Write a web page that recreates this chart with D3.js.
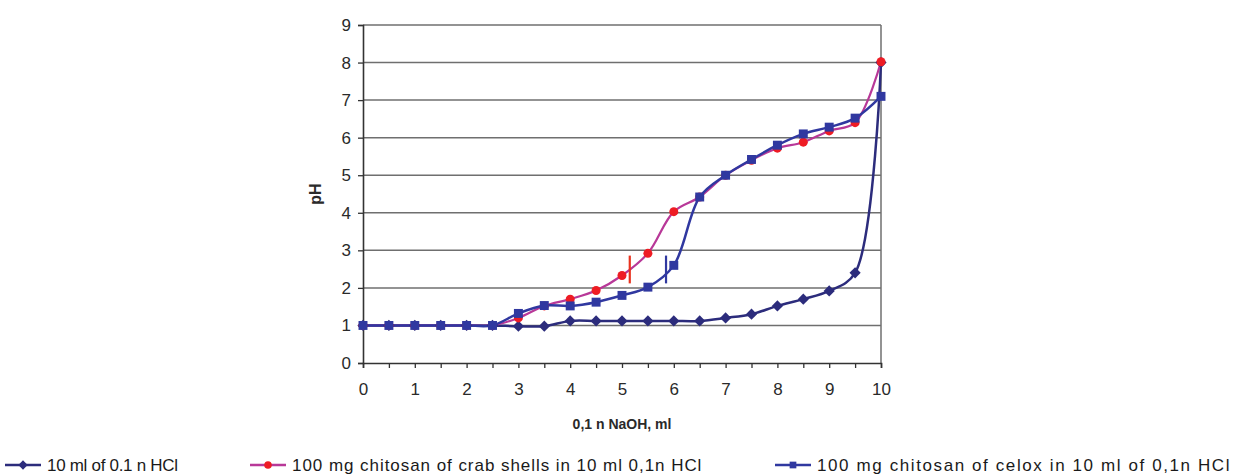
<!DOCTYPE html>
<html>
<head>
<meta charset="utf-8">
<script src="https://d3js.org/d3.v7.min.js"></script>
<style>
 body { margin:0; background:#fff; }
 text { font-family: "Liberation Sans", Arial, sans-serif; }
</style>
</head>
<body>
<div id="chart"></div>
<script>

// data
var naoh = [0,0.5,1,1.5,2,2.5,3,3.5,4,4.5,5,5.5,6,6.5,7,7.5,8,8.5,9,9.5,10];
var phHcl   = [1,1,1,1,1,1,0.98,0.98,1.12,1.12,1.12,1.12,1.12,1.12,1.2,1.3,1.52,1.7,1.92,2.4,8];
var phCrab  = [1,1,1,1,1,1,1.2,1.52,1.7,1.93,2.33,2.92,4.03,4.42,5,5.4,5.72,5.88,6.18,6.4,8.02];
var phCelox = [1,1,1,1,1,1,1.32,1.53,1.52,1.62,1.8,2.02,2.6,4.42,5,5.42,5.8,6.1,6.28,6.52,7.1];
var xTicks = [0,1,2,3,4,5,6,7,8,9,10];
var yTicks = [0,1,2,3,4,5,6,7,8,9];
var seriesNames = ["10 ml of 0.1 n HCl",
                   "100 mg chitosan of crab shells in 10 ml 0,1n HCl",
                   "100 mg chitosan of celox in 10 ml of 0,1n HCl"];
// vertical marks on the curves: [x, pH from, pH to]
var markCrab  = [5.15, 2.12, 2.86];
var markCelox = [5.85, 2.12, 2.86];

var W = 1235, H = 475;
var svg = d3.select("#chart").append("svg")
  .attr("width", W).attr("height", H);

var x = d3.scaleLinear().domain([0,10]).range([363,881]);
var y = d3.scaleLinear().domain([0,9]).range([363,25]);

//grid lines
svg.append("g").selectAll("line")
  .data(yTicks.slice(1))
  .enter().append("line")
  .attr("x1", x(0)).attr("x2", x(10))
  .attr("y1", function(d){ return y(d); })
  .attr("y2", function(d){ return y(d); })
  .attr("stroke", "#6f6f6f").attr("stroke-width", 1.5);

//plot frame (right side)
svg.append("line")
  .attr("x1", x(10)).attr("x2", x(10)).attr("y1", y(9)).attr("y2", y(0))
  .attr("stroke", "#6f6f6f").attr("stroke-width", 1.5);

//y axis
var yAxis = svg.append("g")
  .attr("transform", "translate(" + x(0) + ",0)")
  .call(d3.axisLeft(y).tickValues(yTicks).tickSize(5).tickPadding(7));
yAxis.select(".domain").attr("stroke", "#333").attr("stroke-width", 1.6);
yAxis.selectAll(".tick line").attr("stroke", "#333").attr("stroke-width", 1.3);
yAxis.selectAll("text").attr("font-size", 17).attr("fill", "#2a2a2a")
  .style("font-family", "Liberation Sans, Arial, sans-serif");

//x axis, ticks every 0.5, labels on whole numbers
var xAxis = svg.append("g")
  .attr("transform", "translate(0," + y(0) + ")")
  .call(d3.axisBottom(x).tickValues(naoh).tickSize(5).tickPadding(15)
    .tickFormat(function(d){ return xTicks.indexOf(d) >= 0 ? d : ""; }));
xAxis.select(".domain").attr("stroke", "#333").attr("stroke-width", 1.6);
xAxis.selectAll(".tick line").attr("stroke", "#333").attr("stroke-width", 1.3);
xAxis.selectAll("text").attr("font-size", 17).attr("fill", "#2a2a2a")
  .style("font-family", "Liberation Sans, Arial, sans-serif");

//axis titles
svg.append("text")
  .attr("x", (x(0) + x(10)) / 2).attr("y", 429)
  .attr("text-anchor", "middle")
  .attr("font-size", 14).attr("font-weight", "bold").attr("fill", "#2a2a2a")
  .text("0,1 n NaOH, ml");

svg.append("text")
  .attr("transform", "translate(321," + ((y(0) + y(9)) / 2) + ") rotate(-90)")
  .attr("text-anchor", "middle")
  .attr("font-size", 16).attr("font-weight", "bold").attr("fill", "#2a2a2a")
  .text("pH");

var line = function(vals){
  return d3.line()
    .x(function(d, i){ return x(naoh[i]); })
    .y(function(d){ return y(d); })
    .curve(d3.curveCatmullRom.alpha(0.5))(vals);
};

var cHcl = "#2c2c7c", cCrab = "#b83898", cCrabDot = "#ee1c24", cCelox = "#3038a0";

//series lines
svg.append("path").attr("d", line(phHcl)).attr("fill", "none")
  .attr("stroke", cHcl).attr("stroke-width", 2.5);
svg.append("path").attr("d", line(phCrab)).attr("fill", "none")
  .attr("stroke", cCrab).attr("stroke-width", 2.2);
svg.append("path").attr("d", line(phCelox)).attr("fill", "none")
  .attr("stroke", cCelox).attr("stroke-width", 2.5);

//markers
var diamond = d3.symbol().type(d3.symbolDiamond2).size(80);
var square = d3.symbol().type(d3.symbolSquare).size(80);

svg.append("g").selectAll("path")
  .data(phHcl).enter().append("path")
  .attr("d", diamond)
  .attr("transform", function(d, i){ return "translate(" + x(naoh[i]) + "," + y(d) + ")"; })
  .attr("fill", cHcl);

svg.append("g").selectAll("circle")
  .data(phCrab).enter().append("circle")
  .attr("cx", function(d, i){ return x(naoh[i]); })
  .attr("cy", function(d){ return y(d); })
  .attr("r", 4.5)
  .attr("fill", cCrabDot);

svg.append("g").selectAll("path")
  .data(phCelox).enter().append("path")
  .attr("d", square)
  .attr("transform", function(d, i){ return "translate(" + x(naoh[i]) + "," + y(d) + ")"; })
  .attr("fill", cCelox);

//vertical marks
svg.append("line")
  .attr("x1", x(markCrab[0])).attr("x2", x(markCrab[0]))
  .attr("y1", y(markCrab[1])).attr("y2", y(markCrab[2]))
  .attr("stroke", "#e8321e").attr("stroke-width", 2.2);
svg.append("line")
  .attr("x1", x(markCelox[0])).attr("x2", x(markCelox[0]))
  .attr("y1", y(markCelox[1])).attr("y2", y(markCelox[2]))
  .attr("stroke", cCelox).attr("stroke-width", 2.2);

//legend
var legendX = [5, 250, 775];
var legendSpacing = [-0.3, 0.95, 1.6];
var legendColors = [cHcl, cCrab, cCelox];
var legY = 465;
var leg = svg.append("g").selectAll("g")
  .data(seriesNames).enter().append("g")
  .attr("transform", function(d, i){ return "translate(" + legendX[i] + "," + legY + ")"; });

leg.append("line")
  .attr("x1", 0).attr("x2", 36).attr("y1", 0).attr("y2", 0)
  .attr("stroke", function(d, i){ return legendColors[i]; })
  .attr("stroke-width", 2.5);

leg.append("path")
  .attr("d", function(d, i){
    if (i == 0) return d3.symbol().type(d3.symbolDiamond2).size(55)();
    if (i == 1) return d3.symbol().type(d3.symbolCircle).size(45)();
    return d3.symbol().type(d3.symbolSquare).size(45)();
  })
  .attr("transform", "translate(18,0)")
  .attr("fill", function(d, i){ return i == 1 ? cCrabDot : legendColors[i]; });

leg.append("text")
  .attr("x", 42).attr("y", 6)
  .attr("font-size", 17).attr("fill", "#1a1a1a")
  .attr("letter-spacing", function(d, i){ return legendSpacing[i]; })
  .text(function(d){ return d; });

</script>
</body>
</html>
